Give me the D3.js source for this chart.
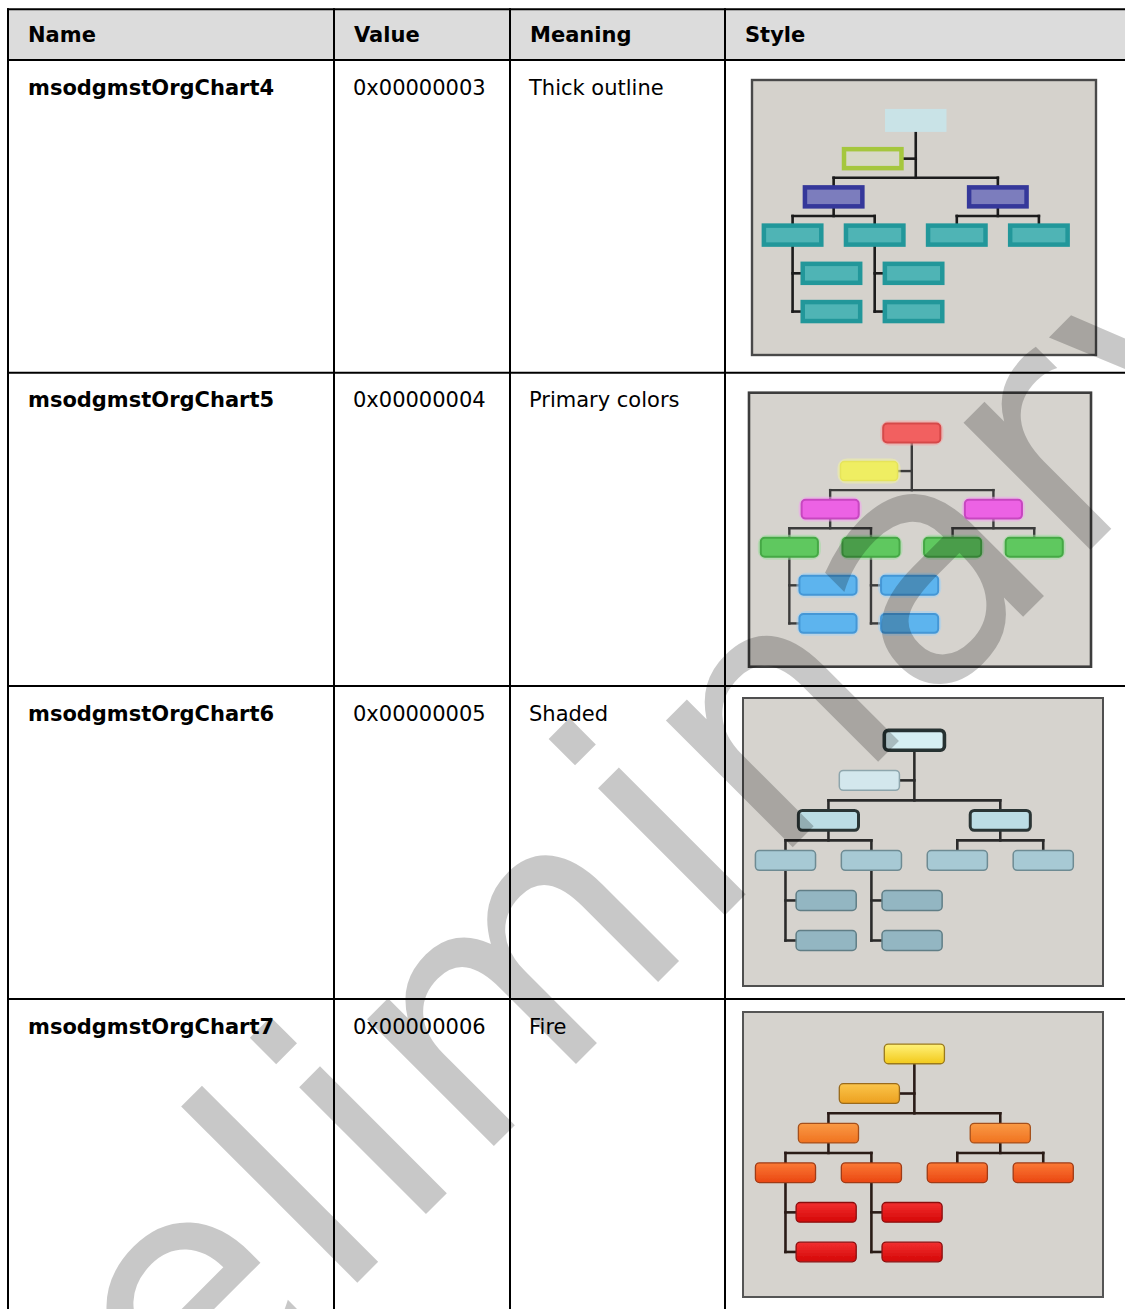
<!DOCTYPE html>
<html><head><meta charset="utf-8">
<script src="https://cdn.jsdelivr.net/npm/d3@7"></script>
<style>html,body{margin:0;padding:0;background:#fff;overflow:hidden}svg{display:block}</style>
</head><body>
<svg id="c" width="1125" height="1309"></svg>
<script>
// ---------- data ----------
const headers = ["Name", "Value", "Meaning", "Style"];
const names = ["msodgmstOrgChart4", "msodgmstOrgChart5", "msodgmstOrgChart6", "msodgmstOrgChart7"];
const values = ["0x00000003", "0x00000004", "0x00000005", "0x00000006"];
const meanings = ["Thick outline", "Primary colors", "Shaded", "Fire"];
const styleKeys = ["thick", "primary", "shaded", "fire"];

// org chart structure drawn in each Style cell
const orgIds       = ["head", "asst", "m1", "m2", "s1", "s2", "s3", "s4", "w1", "w2", "w3", "w4"];
const orgParentIds = ["",     "head", "head", "head", "m1", "m1", "m2", "m2", "s1", "s1", "s2", "s2"];
const orgRoles     = ["head", "assistant", "manager", "manager", "staff", "staff", "staff", "staff", "sub", "sub", "sub", "sub"];

const watermarkText = "Preliminary";

// ---------- styling / layout config ----------
const colX = [8, 334, 510, 725, 1140];
const rowY = [9.3, 60, 372.7, 686, 999, 1312];
const FONT = "'DejaVu Sans', Verdana, sans-serif";

const styles = {
  thick: {
    frame: {dx: 27, dy: 20, w: 344, h: 275}, bg: "#d5d2cc", frameStroke: "#4a4a4a", frameW: 2.4,
    rx: 0, line: "#1a1a1a", lineW: 2.6,
    roles: {
      head: {fill: "#c9e3e7", stroke: "#c9e3e7", sw: 4},
      assistant: {fill: "#d7d9c6", stroke: "#a5c73c", sw: 4.5},
      manager: {fill: "#7b7dbd", stroke: "#34379a", sw: 4.5},
      staff: {fill: "#4fb4b5", stroke: "#22979a", sw: 4.5},
      sub: {fill: "#4fb4b5", stroke: "#22979a", sw: 4.5}
    }
  },
  primary: {
    frame: {dx: 24, dy: 20, w: 342, h: 274}, bg: "#d6d3ce", frameStroke: "#3e3e3e", frameW: 2.6,
    rx: 4, line: "#3a3a3a", lineW: 2.4, glow: true,
    roles: {
      head: {fill: "#f26161", stroke: "#d54848", sw: 2, glow: "#f7a0a0"},
      assistant: {fill: "#efee62", stroke: "#e6e45a", sw: 1.5, glow: "#f3f2a0"},
      manager: {fill: "#ec62e4", stroke: "#c746c0", sw: 2, glow: "#f2a4ee"},
      staff: {fill: "#5fc85f", stroke: "#45a845", sw: 2, glow: "#9fdc9f"},
      sub: {fill: "#5db4ee", stroke: "#4497d6", sw: 2, glow: "#a2d2f4"}
    }
  },
  shaded: {
    frame: {dx: 18, dy: 12, w: 360, h: 288}, bg: "#d6d3ce", frameStroke: "#505050", frameW: 2,
    rx: 4, line: "#2c2c2c", lineW: 2.6,
    roles: {
      head: {fill: "#d6eff3", stroke: "#283030", sw: 3.6},
      assistant: {fill: "#d3e7ed", stroke: "#8ea6ad", sw: 1.5},
      manager: {fill: "#bcdde5", stroke: "#2b3636", sw: 3},
      staff: {fill: "#a7c9d4", stroke: "#6e8b93", sw: 1.5},
      sub: {fill: "#93b6c2", stroke: "#607e86", sw: 1.5}
    }
  },
  fire: {
    frame: {dx: 18, dy: 13, w: 360, h: 285}, bg: "#d6d3ce", frameStroke: "#555555", frameW: 2,
    rx: 4, line: "#2a1a17", lineW: 2.6, gradient: true,
    roles: {
      head: {fill: ["#fff27a", "#f2c91a"], stroke: "#9a7a1e", sw: 1.3},
      assistant: {fill: ["#fbc54a", "#eca020"], stroke: "#9a6a1a", sw: 1.3},
      manager: {fill: ["#fa9a45", "#f07220"], stroke: "#a5501a", sw: 1.3},
      staff: {fill: ["#fb7a36", "#ea4612"], stroke: "#a03a14", sw: 1.3},
      sub: {fill: ["#f23030", "#d40606"], stroke: "#8a1010", sw: 1.3}
    }
  }
};

// ---------- drawing ----------
const svg = d3.select("#c");
const defs = svg.append("defs");
const soft = defs.append("filter").attr("id", "soft").attr("x", "-5%").attr("y", "-5%").attr("width", "110%").attr("height", "110%");
soft.append("feGaussianBlur").attr("stdDeviation", 0.45);

// header background
svg.append("rect").attr("x", colX[0]).attr("y", rowY[0])
  .attr("width", colX[4] - colX[0]).attr("height", rowY[1] - rowY[0]).attr("fill", "#dcdcdc");

// header text
svg.append("g").selectAll("text").data(headers).join("text")
  .attr("x", (d, i) => colX[i] + 20).attr("y", rowY[0] + 33)
  .attr("font-family", FONT).attr("font-size", 21).attr("font-weight", "bold").attr("fill", "#000")
  .text(d => d);

// body text
const body = svg.append("g");
names.forEach((n, i) => {
  const by = rowY[i + 1] + 34.5;
  body.append("text").attr("x", colX[0] + 20).attr("y", by)
    .attr("font-family", FONT).attr("font-size", 21).attr("font-weight", "bold").text(n);
  body.append("text").attr("x", colX[1] + 19).attr("y", by)
    .attr("font-family", FONT).attr("font-size", 21).text(values[i]);
  body.append("text").attr("x", colX[2] + 19).attr("y", by)
    .attr("font-family", FONT).attr("font-size", 21).text(meanings[i]);
});

// org chart hierarchy
const root = d3.stratify()
  .id((d, i) => orgIds[i])
  .parentId((d, i) => orgParentIds[i] || null)(orgIds.map((id, i) => ({id, role: orgRoles[i]})));

const staffIds = orgIds.filter((d, i) => orgRoles[i] === "staff");
const colScale = d3.scalePoint().domain(staffIds).range([0.118, 0.834]);
const rowScale = d3.scaleLinear().domain([0, 5]).range([0.147, 0.842]);

function layoutNodes() {
  const pos = {};
  root.each(n => {
    if (n.data.role === "staff") pos[n.id] = {cx: colScale(n.id), row: 3};
  });
  root.each(n => {
    if (n.data.role === "manager") {
      const xs = n.children.map(c => pos[c.id].cx);
      pos[n.id] = {cx: d3.mean(xs), row: 2};
    }
  });
  const mgrs = root.children.filter(c => c.data.role === "manager");
  pos[root.id] = {cx: d3.mean(mgrs, m => pos[m.id].cx), row: 0};
  root.children.filter(c => c.data.role === "assistant").forEach(a => {
    pos[a.id] = {cx: pos[root.id].cx - 0.125, row: 1};
  });
  root.each(n => {
    if (n.data.role === "sub") {
      const k = n.parent.children.indexOf(n);
      pos[n.id] = {cx: pos[n.parent.id].cx + 0.113, row: 4 + k};
    }
  });
  return pos;
}
const pos = layoutNodes();
const NW = 0.167, NH = 0.069;

function drawOrg(rowIndex, key) {
  const st = styles[key];
  const fx = colX[3] + st.frame.dx, fy = rowY[rowIndex + 1] + st.frame.dy;
  const x = d3.scaleLinear().domain([0, 1]).range([fx, fx + st.frame.w]);
  const y = d3.scaleLinear().domain([0, 1]).range([fy, fy + st.frame.h]);
  const g = svg.append("g").attr("filter", "url(#soft)");
  g.append("rect").attr("x", fx).attr("y", fy).attr("width", st.frame.w).attr("height", st.frame.h)
    .attr("fill", st.bg).attr("stroke", st.frameStroke).attr("stroke-width", st.frameW);

  const lines = g.append("g").attr("stroke", st.line).attr("stroke-width", st.lineW)
    .attr("fill", "none").attr("stroke-linecap", "square");
  const hw = NW / 2, hh = NH / 2;
  const P = id => pos[id];
  const cy = id => rowScale(P(id).row);
  const head = root;
  const mgrs = root.children.filter(c => c.data.role === "manager");
  const asst = root.children.filter(c => c.data.role === "assistant");
  const mainBar = rowScale(2) - (rowScale(1) - rowScale(0)) / 2;
  lines.append("line").attr("x1", x(P(head.id).cx)).attr("x2", x(P(head.id).cx))
    .attr("y1", y(cy(head.id) + hh)).attr("y2", y(mainBar));
  lines.append("line").attr("x1", x(P(mgrs[0].id).cx)).attr("x2", x(P(mgrs[mgrs.length - 1].id).cx))
    .attr("y1", y(mainBar)).attr("y2", y(mainBar));
  mgrs.forEach(m => {
    lines.append("line").attr("x1", x(P(m.id).cx)).attr("x2", x(P(m.id).cx))
      .attr("y1", y(mainBar)).attr("y2", y(cy(m.id) - hh));
    const subBar = rowScale(3) - (rowScale(3) - rowScale(2)) / 2;
    lines.append("line").attr("x1", x(P(m.id).cx)).attr("x2", x(P(m.id).cx))
      .attr("y1", y(cy(m.id) + hh)).attr("y2", y(subBar));
    const kids = m.children;
    lines.append("line").attr("x1", x(P(kids[0].id).cx)).attr("x2", x(P(kids[kids.length - 1].id).cx))
      .attr("y1", y(subBar)).attr("y2", y(subBar));
    kids.forEach(k => {
      lines.append("line").attr("x1", x(P(k.id).cx)).attr("x2", x(P(k.id).cx))
        .attr("y1", y(subBar)).attr("y2", y(cy(k.id) - hh));
      if (k.children) {
        const last = k.children[k.children.length - 1];
        lines.append("path").attr("d", `M${x(P(k.id).cx)},${y(cy(k.id) + hh)}V${y(cy(last.id))}`);
        k.children.forEach(s => {
          lines.append("line").attr("x1", x(P(k.id).cx)).attr("x2", x(P(s.id).cx - hw))
            .attr("y1", y(cy(s.id))).attr("y2", y(cy(s.id)));
        });
      }
    });
  });
  asst.forEach(a => {
    lines.append("line").attr("x1", x(P(a.id).cx + hw)).attr("x2", x(P(head.id).cx))
      .attr("y1", y(cy(a.id))).attr("y2", y(cy(a.id)));
  });

  if (st.gradient) {
    Object.entries(st.roles).forEach(([r, s]) => {
      const lg = defs.append("linearGradient").attr("id", `g-${key}-${r}`)
        .attr("x1", 0).attr("x2", 0).attr("y1", 0).attr("y2", 1);
      lg.append("stop").attr("offset", "0%").attr("stop-color", s.fill[0]);
      lg.append("stop").attr("offset", "100%").attr("stop-color", s.fill[1]);
    });
  }

  const nodes = root.descendants();
  const ng = g.append("g");
  if (st.glow) {
    ng.selectAll("rect.glow").data(nodes).join("rect").attr("class", "glow")
      .attr("x", d => x(P(d.id).cx - hw)).attr("y", d => y(cy(d.id) - hh))
      .attr("width", x(NW) - x(0)).attr("height", y(NH) - y(0))
      .attr("rx", st.rx + 2).attr("fill", "none")
      .attr("stroke", d => st.roles[d.data.role].glow).attr("stroke-width", 6).attr("stroke-opacity", 0.55);
  }
  ng.selectAll("rect.node").data(nodes).join("rect").attr("class", "node")
    .attr("x", d => x(P(d.id).cx - hw)).attr("y", d => y(cy(d.id) - hh))
    .attr("width", x(NW) - x(0)).attr("height", y(NH) - y(0))
    .attr("rx", st.rx)
    .attr("fill", d => st.gradient ? `url(#g-${key}-${d.data.role})` : st.roles[d.data.role].fill)
    .attr("stroke", d => st.roles[d.data.role].stroke)
    .attr("stroke-width", d => st.roles[d.data.role].sw);
}
styleKeys.forEach((k, i) => drawOrg(i, k));

// table borders
const borders = svg.append("g").attr("stroke", "#000").attr("stroke-width", 2);
rowY.forEach(yy => borders.append("line").attr("x1", colX[0] - 1).attr("x2", colX[4]).attr("y1", yy).attr("y2", yy));
colX.forEach(xx => borders.append("line").attr("x1", xx).attr("x2", xx).attr("y1", rowY[0] - 1).attr("y2", rowY[5]));

// watermark
svg.append("text")
  .attr("transform", "translate(-46,1686) rotate(-45)")
  .attr("font-family", FONT).attr("font-size", 328).attr("letter-spacing", 6)
  .attr("fill", "#000").attr("fill-opacity", 0.216)
  .text(watermarkText);
</script>
</body></html>
